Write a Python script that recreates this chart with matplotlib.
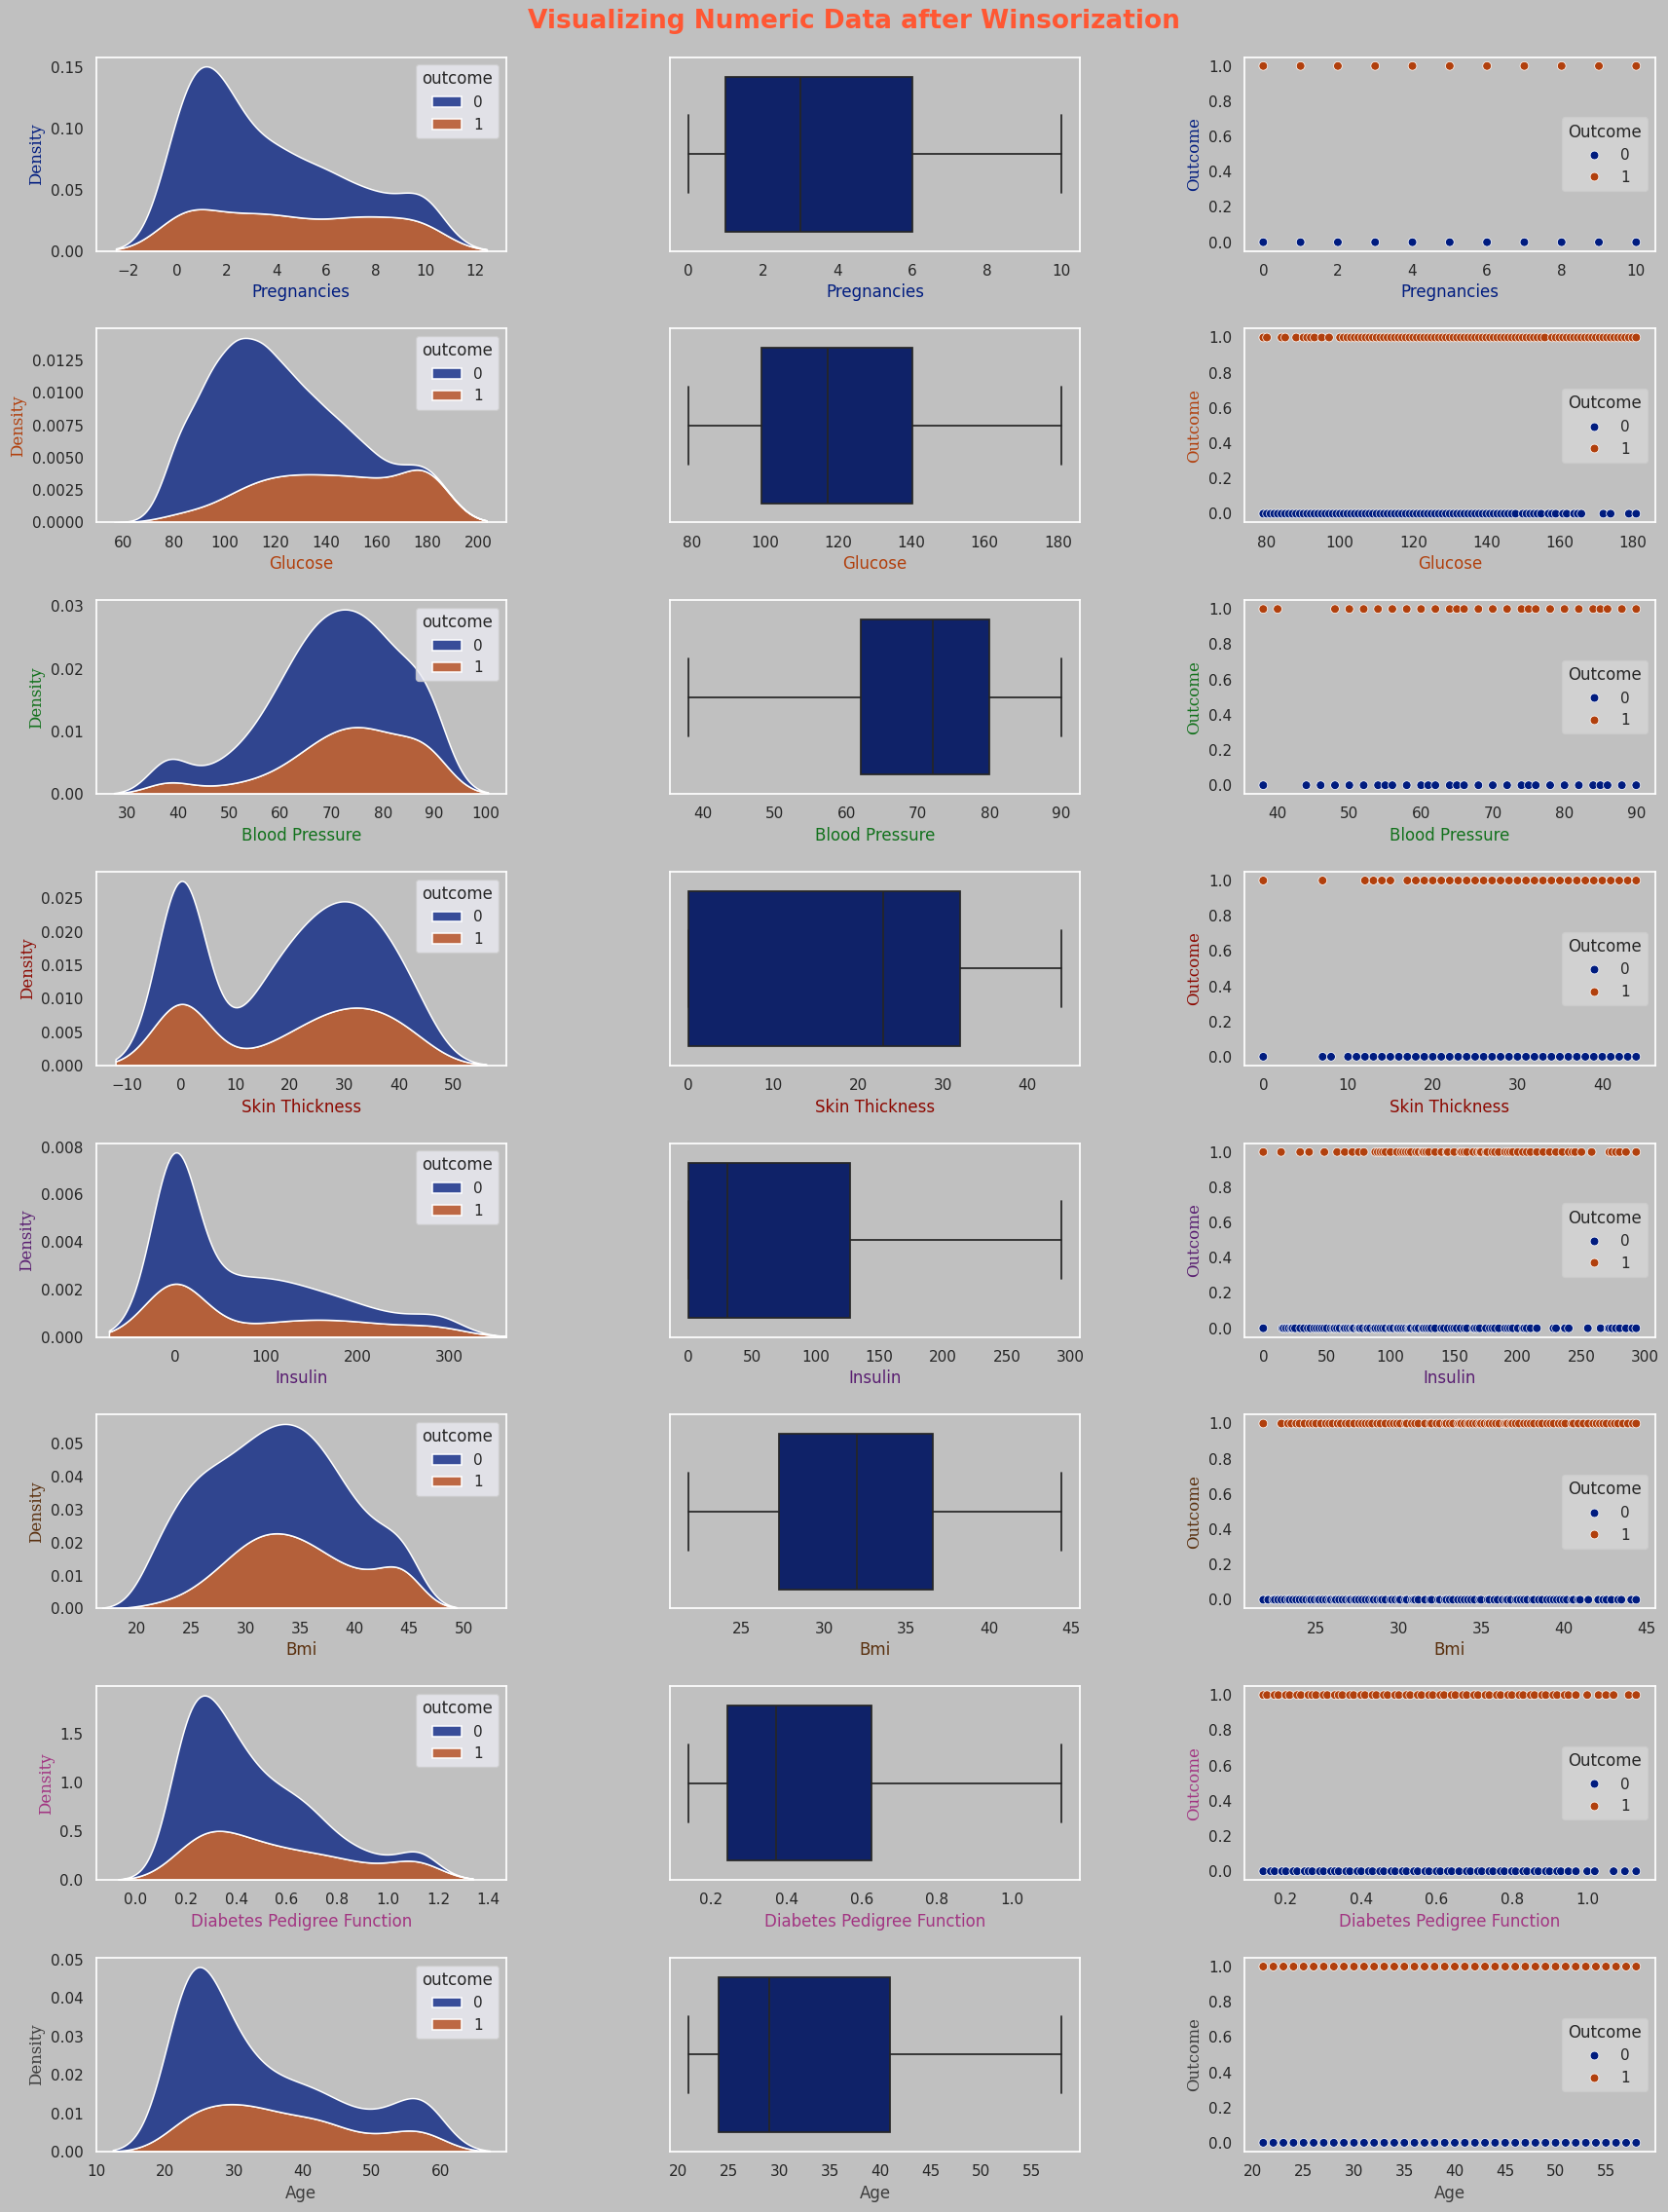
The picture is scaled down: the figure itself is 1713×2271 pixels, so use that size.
import matplotlib

matplotlib.use("Agg")
import matplotlib.pyplot as plt
from matplotlib.ticker import MultipleLocator

import numpy as np
import pandas as pd
import seaborn as sns

columns = ["Pregnancies", "Glucose", "BloodPressure", "SkinThickness",
           "Insulin", "BMI", "DiabetesPedigreeFunction", "Age"]
axis_names = ["Pregnancies", "Glucose", "Blood Pressure", "Skin Thickness",
              "Insulin", "Bmi", "Diabetes Pedigree Function", "Age"]
row_colors = ["#001c7f", "#b1400d", "#12711c", "#8c0800",
              "#591e71", "#592f0d", "#a23582", "#3c3c3c"]
outcome_palette = {0: "#001c7f", 1: "#b1400d"}

# --- density plots: value bins and counts per outcome (0 / 1) ---
preg_vals = [0, 1, 2, 3, 4, 5, 6, 7, 8, 9, 10]
preg_n0 = [73, 106, 84, 48, 45, 36, 34, 20, 16, 10, 28]
preg_n1 = [38, 29, 19, 27, 23, 21, 16, 25, 22, 18, 30]

glu_vals = [79, 85, 95, 105, 115, 125, 135, 145, 155, 165, 175, 181]
glu_n0 = [22, 48, 83, 93, 83, 62, 46, 33, 20, 7, 2, 1]
glu_n1 = [3, 6, 9, 20, 27, 29, 29, 28, 28, 24, 20, 45]

bp_vals = [38, 44, 48, 52, 56, 60, 64, 68, 72, 76, 80, 84, 88, 90]
bp_n0 = [24, 8, 11, 18, 28, 43, 55, 62, 59, 58, 48, 37, 29, 20]
bp_n1 = [14, 3, 4, 5, 8, 12, 20, 29, 34, 36, 30, 27, 24, 22]

skin_vals = [0, 8, 12, 16, 20, 24, 28, 32, 36, 40, 44]
skin_n0 = [150, 6, 18, 36, 42, 49, 52, 51, 44, 30, 22]
skin_n1 = [92, 2, 5, 9, 15, 22, 27, 30, 28, 23, 15]

ins_vals = [0, 25, 50, 75, 100, 125, 150, 175, 200, 225, 250, 275, 293]
ins_n0 = [244, 10, 39, 39, 38, 32, 25, 20, 15, 10, 8, 6, 14]
ins_n1 = [140, 2, 6, 9, 12, 14, 15, 15, 13, 11, 8, 7, 16]

bmi_vals = [21.8, 24, 26, 28, 30, 32, 34, 36, 38, 40, 42, 44.4]
bmi_n0 = [34, 50, 53, 47, 45, 49, 53, 53, 45, 31, 22, 18]
bmi_n1 = [3, 5, 12, 21, 32, 37, 36, 31, 23, 17, 17, 34]

dpf_vals = [0.14, 0.18, 0.22, 0.26, 0.30, 0.34, 0.38, 0.42, 0.46, 0.50, 0.54,
            0.58, 0.62, 0.66, 0.70, 0.74, 0.78, 0.82, 0.86, 0.90, 0.94, 0.98,
            1.02, 1.06, 1.10, 1.13]
dpf_n0 = [25, 43, 51, 50, 44, 38, 33, 28, 25, 21, 20, 19, 18, 17, 15, 11, 8, 6,
          5, 4, 3, 2, 2, 1, 1, 10]
dpf_n1 = [6, 9, 16, 19, 19, 18, 15, 14, 13, 12, 11, 10, 10, 9, 9, 8, 8, 8, 5,
          5, 5, 4, 4, 4, 5, 22]

age_vals = [21.5, 23.5, 25.5, 27.5, 29.5, 31.5, 33.5, 35.5, 37.5, 39.5, 41.5,
            43.5, 45.5, 47.5, 49.5, 51.5, 53.5, 55.5, 57.5, 58]
age_n0 = [70, 88, 72, 43, 32, 20, 16, 14, 14, 14, 13, 10, 10, 9, 9, 9, 10, 10, 11, 26]
age_n1 = [16, 15, 22, 18, 19, 23, 16, 17, 16, 10, 18, 13, 10, 5, 6, 7, 7, 8, 8, 14]

# --- box plots: whisker low, q1, median, q3, whisker high ---
box_lo = [0, 79, 38, 0, 0, 21.8, 0.14, 21]
box_q1 = [1, 99, 62, 0, 0, 27.3, 0.24375, 24]
box_med = [3, 117, 72, 23, 30.5, 32.0, 0.3725, 29]
box_q3 = [6, 140.25, 80, 32, 127.25, 36.6, 0.62625, 41]
box_hi = [10, 181, 90, 44, 293, 44.4, 1.13, 58]

# --- scatter plots: distinct values seen for each outcome ---
preg_pts0 = [0, 1, 2, 3, 4, 5, 6, 7, 8, 9, 10]
preg_pts1 = [0, 1, 2, 3, 4, 5, 6, 7, 8, 9, 10]

glu_pts0 = [79, 80, 81, 82, 83, 84, 85, 86, 87, 88, 89, 90, 91, 92, 93, 94, 95,
            96, 97, 98, 99, 100, 101, 102, 103, 104, 105, 106, 107, 108, 109,
            110, 111, 112, 113, 114, 115, 116, 117, 118, 119, 120, 121, 122,
            123, 124, 125, 126, 127, 128, 129, 130, 131, 132, 133, 134, 135,
            136, 137, 138, 139, 140, 141, 142, 143, 144, 145, 146, 147, 148,
            150, 151, 152, 153, 154, 155, 157, 158, 159, 161, 162, 164, 165,
            166, 172, 174, 179, 181]
glu_pts1 = [79, 80, 84, 85, 88, 90, 91, 92, 93, 95, 97, 100, 101, 102, 103,
            104, 105, 106, 107, 108, 109, 110, 111, 112, 113, 114, 115, 116,
            117, 118, 119, 120, 121, 122, 123, 124, 125, 126, 127, 128, 129,
            130, 131, 132, 133, 134, 135, 136, 137, 138, 139, 140, 141, 142,
            143, 144, 145, 146, 147, 148, 149, 150, 151, 152, 153, 154, 155,
            156, 158, 159, 160, 161, 162, 163, 164, 165, 166, 167, 168, 169,
            170, 171, 172, 173, 174, 175, 176, 177, 178, 179, 180, 181]

bp_pts0 = [38, 44, 46, 48, 50, 52, 54, 55, 56, 58, 60, 61, 62, 64, 65, 66, 68,
           70, 72, 74, 75, 76, 78, 80, 82, 84, 85, 86, 88, 90]
bp_pts1 = [38, 40, 48, 50, 52, 54, 56, 58, 60, 62, 64, 65, 66, 68, 70, 72, 74,
           75, 76, 78, 80, 82, 84, 85, 86, 88, 90]

skin_pts0 = [0, 7, 8, 10, 11, 12, 13, 14, 15, 16, 17, 18, 19, 20, 21, 22, 23,
             24, 25, 26, 27, 28, 29, 30, 31, 32, 33, 34, 35, 36, 37, 38, 39,
             40, 41, 42, 43, 44]
skin_pts1 = [0, 7, 12, 13, 14, 15, 17, 18, 19, 20, 21, 22, 23, 24, 25, 26, 27,
             28, 29, 30, 31, 32, 33, 34, 35, 36, 37, 38, 39, 40, 41, 42, 43, 44]

ins_pts0 = [0, 15, 16, 18, 20, 22, 23, 25, 29, 32, 35, 37, 40, 42, 44, 46, 48,
            50, 53, 55, 56, 58, 60, 63, 64, 66, 68, 70, 71, 74, 75, 76, 78, 81,
            82, 84, 87, 88, 90, 92, 94, 96, 99, 100, 102, 105, 106, 108, 110,
            112, 114, 115, 116, 119, 120, 122, 125, 126, 128, 130, 132, 135,
            140, 142, 145, 148, 150, 152, 155, 158, 160, 165, 166, 168, 170,
            175, 178, 180, 182, 185, 190, 192, 194, 196, 200, 204, 205, 207,
            210, 215, 228, 230, 237, 240, 255, 265, 271, 272, 274, 277, 280,
            285, 290, 293]
ins_pts1 = [0, 14, 29, 36, 48, 58, 64, 70, 75, 79, 88, 90, 92, 94, 96, 100, 105,
            108, 110, 112, 114, 116, 120, 122, 125, 126, 128, 130, 135, 140,
            144, 145, 150, 155, 156, 158, 160, 165, 168, 170, 171, 175, 176,
            180, 182, 185, 190, 192, 194, 196, 200, 204, 207, 210, 215, 220,
            225, 230, 235, 240, 243, 245, 250, 258, 272, 274, 277, 280, 285, 293]

bmi_pts0 = [21.8, 22.1, 22.4, 22.5, 22.7, 22.9, 23.1, 23.3, 23.4, 23.6, 23.8,
            24.0, 24.2, 24.4, 24.6, 24.7, 24.9, 25.1, 25.2, 25.4, 25.6, 25.8,
            25.9, 26.1, 26.2, 26.4, 26.6, 26.8, 27.0, 27.1, 27.3, 27.4, 27.6,
            27.8, 28.0, 28.2, 28.4, 28.5, 28.7, 28.9, 29.0, 29.2, 29.5, 29.6,
            29.8, 30.0, 30.1, 30.4, 30.5, 30.8, 30.9, 31.0, 31.2, 31.6, 31.9,
            32.0, 32.4, 32.5, 32.8, 32.9, 33.1, 33.3, 33.6, 33.8, 34.0, 34.2,
            34.4, 34.6, 34.9, 35.0, 35.4, 35.5, 35.8, 36.0, 36.3, 36.5, 36.6,
            36.8, 37.1, 37.2, 37.4, 37.6, 37.8, 38.1, 38.2, 38.5, 38.7, 39.0,
            39.2, 39.4, 39.6, 39.8, 40.0, 40.2, 40.5, 40.6, 40.9, 41.0, 41.5,
            42.1, 42.4, 42.6, 42.9, 43.3, 43.5, 44.1, 44.4]
bmi_pts1 = [21.8, 22.9, 23.3, 23.5, 23.8, 24.0, 24.3, 24.6, 24.8, 25.0, 25.3,
            25.6, 25.8, 26.0, 26.3, 26.5, 26.8, 27.0, 27.3, 27.6, 27.8, 28.0,
            28.2, 28.4, 28.7, 28.9, 29.2, 29.5, 29.7, 29.9, 30.1, 30.4, 30.5,
            30.8, 31.0, 31.2, 31.6, 31.9, 32.0, 32.3, 32.5, 32.8, 32.9, 33.1,
            33.3, 33.6, 33.7, 33.8, 34.0, 34.2, 34.3, 34.5, 34.7, 34.9, 35.0,
            35.2, 35.4, 35.5, 35.7, 35.9, 36.1, 36.4, 36.5, 36.6, 36.8, 36.9,
            37.1, 37.3, 37.6, 37.8, 38.0, 38.2, 38.5, 38.7, 39.0, 39.2, 39.4,
            39.7, 39.9, 40.1, 40.5, 40.6, 40.9, 41.2, 41.5, 41.8, 42.0, 42.2,
            42.4, 42.6, 42.9, 43.1, 43.3, 43.6, 43.9, 44.2, 44.4]

dpf_pts0 = [0.14, 0.16, 0.17, 0.19, 0.2, 0.22, 0.23, 0.25, 0.26, 0.27, 0.29,
            0.3, 0.32, 0.33, 0.34, 0.36, 0.37, 0.39, 0.4, 0.42, 0.43, 0.45,
            0.46, 0.48, 0.49, 0.51, 0.52, 0.54, 0.55, 0.57, 0.58, 0.6, 0.61,
            0.63, 0.64, 0.66, 0.68, 0.69, 0.71, 0.72, 0.74, 0.75, 0.77, 0.78,
            0.8, 0.81, 0.83, 0.84, 0.86, 0.87, 0.89, 0.9, 0.92, 0.93, 0.95,
            0.97, 1.0, 1.02, 1.07, 1.1, 1.13]
dpf_pts1 = [0.14, 0.15, 0.17, 0.18, 0.2, 0.21, 0.23, 0.24, 0.26, 0.27, 0.28,
            0.3, 0.31, 0.33, 0.34, 0.35, 0.37, 0.38, 0.4, 0.41, 0.43, 0.44,
            0.46, 0.47, 0.49, 0.5, 0.52, 0.53, 0.55, 0.56, 0.58, 0.59, 0.61,
            0.62, 0.64, 0.65, 0.67, 0.68, 0.7, 0.71, 0.73, 0.74, 0.76, 0.77,
            0.79, 0.8, 0.82, 0.83, 0.85, 0.86, 0.88, 0.89, 0.91, 0.92, 0.94,
            0.95, 0.97, 1.0, 1.03, 1.05, 1.07, 1.11, 1.13]

age_pts0 = [21, 22, 23, 24, 25, 26, 27, 28, 29, 30, 31, 32, 33, 34, 35, 36, 37,
            38, 39, 40, 41, 42, 43, 44, 45, 46, 47, 48, 49, 50, 51, 52, 53, 54,
            55, 56, 57, 58]
age_pts1 = [21, 22, 23, 24, 25, 26, 27, 28, 29, 30, 31, 32, 33, 34, 35, 36, 37,
            38, 39, 40, 41, 42, 43, 44, 45, 46, 47, 48, 49, 50, 51, 52, 53, 54,
            55, 56, 57, 58]

kde_bins = [preg_vals, glu_vals, bp_vals, skin_vals, ins_vals, bmi_vals, dpf_vals, age_vals]
kde_n0 = [preg_n0, glu_n0, bp_n0, skin_n0, ins_n0, bmi_n0, dpf_n0, age_n0]
kde_n1 = [preg_n1, glu_n1, bp_n1, skin_n1, ins_n1, bmi_n1, dpf_n1, age_n1]
pts0 = [preg_pts0, glu_pts0, bp_pts0, skin_pts0, ins_pts0, bmi_pts0, dpf_pts0, age_pts0]
pts1 = [preg_pts1, glu_pts1, bp_pts1, skin_pts1, ins_pts1, bmi_pts1, dpf_pts1, age_pts1]

kde_xlim = [(-3.28, 13.27), (49.5, 211), (24.0, 104.1), (-15.7, 59.8),
            (-86, 363), (16.3, 53.9), (-0.156, 1.47), (9.9, 69.6)]
kde_xstep = [2, 20, 10, 10, 100, 5, 0.2, 10]

sns.set_theme(style="dark")
plt.rcParams["font.family"] = ["DejaVu Sans"]

BG = "#c0c0c0"
W, H = 1713, 2271
fig = plt.figure(figsize=(W / 100, H / 100), dpi=100, facecolor=BG)

col_left = [98.7, 688.0, 1278.2]
ax_w, ax_h = 421.3, 199.0


def make_ax(row, col):
    top = 58.7 + row * 278.75
    ax = fig.add_axes([col_left[col] / W, 1 - (top + ax_h) / H, ax_w / W, ax_h / H])
    ax.set_facecolor(BG)
    ax.grid(False)
    for s in ax.spines.values():
        s.set_color("white")
        s.set_linewidth(1.25)
    return ax


for i, col in enumerate(columns):
    c = row_colors[i]

    # density, stacked by outcome
    ax = make_ax(i, 0)
    vals = kde_bins[i] + kde_bins[i]
    counts = kde_n0[i] + kde_n1[i]
    groups = [0] * len(kde_bins[i]) + [1] * len(kde_bins[i])
    df = pd.DataFrame({col: np.repeat(vals, counts), "outcome": np.repeat(groups, counts)})
    sns.kdeplot(data=df, x=col, hue="outcome", hue_order=[0, 1], palette=outcome_palette,
                multiple="stack", edgecolor="white", linewidth=1.1, ax=ax)
    ax.set_xlim(*kde_xlim[i])
    ax.xaxis.set_major_locator(MultipleLocator(kde_xstep[i]))
    ax.set_xlabel(axis_names[i], color=c, fontsize=12)
    ax.set_ylabel("Density", color=c, fontsize=12, fontfamily="serif")
    sns.move_legend(ax, "upper right", frameon=True, facecolor="#eaeaf2",
                    framealpha=0.8, fontsize=11, title_fontsize=12)

    # box plot
    ax = make_ax(i, 1)
    stats = [dict(whislo=box_lo[i], q1=box_q1[i], med=box_med[i], q3=box_q3[i],
                  whishi=box_hi[i], fliers=[])]
    line = dict(color="#262626", linewidth=1.25)
    ax.bxp(stats, positions=[0], widths=0.8, capwidths=0.4, orientation="horizontal",
           patch_artist=True, showfliers=False,
           boxprops=dict(facecolor="#0f2268", edgecolor="#262626", linewidth=1.25),
           medianprops=line, whiskerprops=line, capprops=line)
    ax.set_ylim(0.5, -0.5)
    ax.set_yticks([])
    ax.set_xlabel(axis_names[i], color=c, fontsize=12)

    # scatter against outcome
    ax = make_ax(i, 2)
    sp = pd.DataFrame({col: pts0[i] + pts1[i],
                       "Outcome": [0] * len(pts0[i]) + [1] * len(pts1[i])})
    sns.scatterplot(data=sp, x=col, y="Outcome", hue="Outcome", hue_order=[0, 1],
                    palette=outcome_palette, s=40, ax=ax)
    ax.set_xlabel(axis_names[i], color=c, fontsize=12)
    ax.set_ylabel("Outcome", color=c, fontsize=12, fontfamily="serif")
    sns.move_legend(ax, "center right", frameon=True, facecolor="#d6d6d6",
                    framealpha=0.8, fontsize=11, title_fontsize=12)

fig.text(0.512, 1 - 29.3 / H, "Visualizing Numeric Data after Winsorization",
         ha="center", va="baseline", fontsize=19, fontweight="bold", color="#ff5733")

fig.savefig("out.png", dpi=100, facecolor=BG)
